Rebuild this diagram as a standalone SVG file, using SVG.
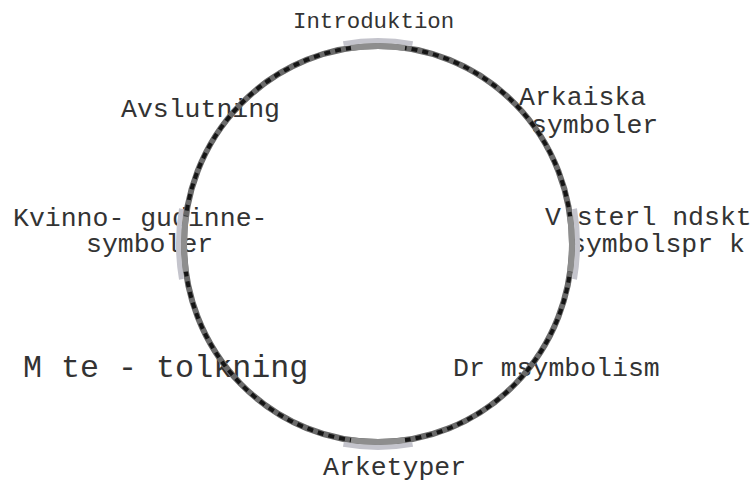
<svg xmlns="http://www.w3.org/2000/svg" width="755" height="481" viewBox="0 0 755 481">
<style>
.t{font-family:"Liberation Mono","Courier New",monospace;font-size:26.5px;fill:#333}
.big{font-size:31.7px}
.sm{font-size:22.4px}
.halo{fill:none;stroke:#c4c4cc;stroke-width:5}
.soft{fill:none;stroke:#8e8e8e;stroke-width:6}
</style>
<rect width="755" height="481" fill="#fff"/>
<g id="nodes">
<g id="n-introduktion"><text class="t sm" x="293" y="28">Introduktion</text></g>
<g id="n-arkaiska"><text class="t" x="519" y="105">Arkaiska</text><text class="t" x="531" y="133">symboler</text></g>
<g id="n-vasterlandskt"><text class="t" x="545" y="225">V sterl ndskt</text><text class="t" x="570" y="252">symbolspr k</text></g>
<g id="n-drom"><text class="t" x="453" y="376">Dr msymbolism</text></g>
<g id="n-arketyper"><text class="t" x="323" y="475">Arketyper</text></g>
<g id="n-mote"><text class="t big" x="23" y="377">M te - tolkning</text></g>
<g id="n-kvinno"><text class="t" x="13" y="226">Kvinno- gudinne-</text><text class="t" x="86" y="252">symboler</text></g>
<g id="n-avslutning"><text class="t" x="121" y="117">Avslutning</text></g>
</g>
<g id="connectors">
<ellipse cx="378" cy="244" rx="194" ry="198" fill="none" stroke="#6a6a6a" stroke-width="6"/>
<ellipse cx="378" cy="244" rx="194" ry="198" fill="none" stroke="#151515" stroke-width="4" stroke-dasharray="6 5"/>
<path class="halo" d="M343.4,43.6 A199.5,203.5 0 0,1 412.6,43.6"/>
<path class="halo" d="M574.5,208.7 A199.5,203.5 0 0,1 574.5,279.3"/>
<path class="halo" d="M412.6,444.4 A199.5,203.5 0 0,1 343.4,444.4"/>
<path class="halo" d="M181.5,279.3 A199.5,203.5 0 0,1 181.5,208.7"/>
<path class="soft" d="M351,48 A194,198 0 0,1 405,48"/>
<path class="soft" d="M570.1,216.4 A194,198 0 0,1 570.1,271.6"/>
<path class="soft" d="M405,440.1 A194,198 0 0,1 351,440.1"/>
<path class="soft" d="M185.9,271.6 A194,198 0 0,1 185.9,216.4"/>
</g>
</svg>
